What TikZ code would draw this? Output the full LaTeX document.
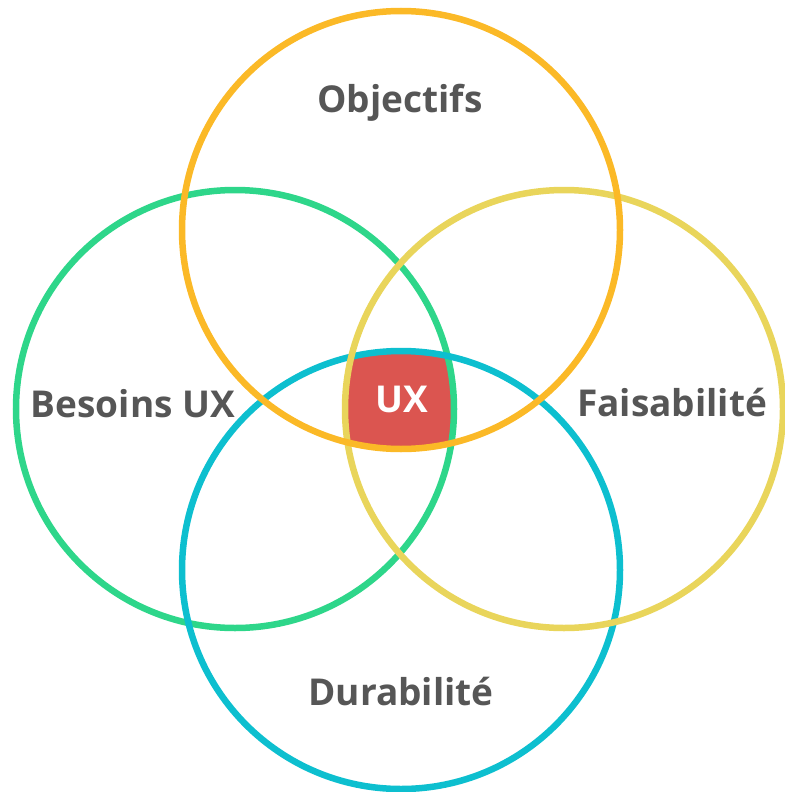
\documentclass[tikz,border=0pt]{standalone}
\usepackage{fontspec}
\setmainfont{Open Sans}
\usepackage{tikz}
\usetikzlibrary{calc}
\definecolor{objorange}{HTML}{FBB927}
\definecolor{besgreen}{HTML}{2ED68A}
\definecolor{faiyellow}{HTML}{E9D55B}
\definecolor{durblue}{HTML}{0DBFCF}
\definecolor{uxred}{HTML}{DB5550}
\definecolor{labelgray}{HTML}{565656}
\tikzset{
  ring/.style={line width=6.5pt},
  lbl/.style={font=\fontsize{37}{44}\selectfont\bfseries, text=labelgray,
    inner sep=0pt, anchor=base}
}
\newcommand{\Rad}{219pt}

\begin{document}
\begin{tikzpicture}[x=1pt,y=-1pt]
\useasboundingbox (0,0) rectangle (784,792);
\coordinate (O) at (401,230);
\coordinate (B) at (235,409);
\coordinate (F) at (564,409);
\coordinate (D) at (401,570);
% the common part
\begin{scope}
  \clip (O) circle [radius=\Rad];
  \clip (B) circle [radius=\Rad];
  \clip (F) circle [radius=\Rad];
  \fill [uxred] (D) circle [radius=\Rad];
\end{scope}
\draw [ring,besgreen] (B) circle [radius=\Rad];
\draw [ring,durblue] (D) circle [radius=\Rad];
\draw [ring,faiyellow] (F) circle [radius=\Rad];
\draw [ring,objorange] (O) circle [radius=\Rad];
\node [lbl] (obj) at (400,112) {Objectifs};
\node [lbl] (bes) at (133,417) {Besoins UX};
\node [lbl] (fai) at (672,416) {Faisabilité};
\node [lbl] (dur) at (401,705) {Durabilité};
\node [lbl,text=white] (ux) at (402,412) {UX};
\end{tikzpicture}
\end{document}
